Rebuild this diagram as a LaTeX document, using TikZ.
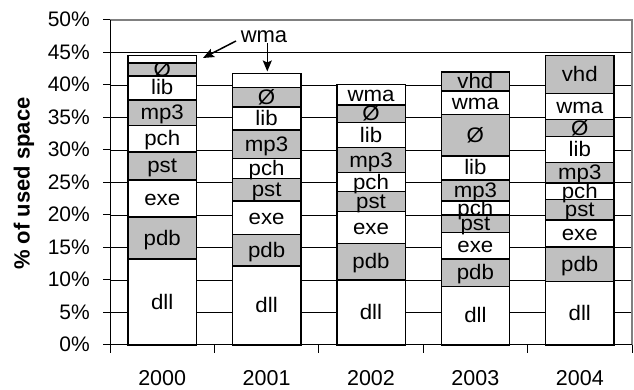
\documentclass[tikz,border=0pt]{standalone}
\usepackage{fontspec}
\setmainfont{Liberation Sans}
\newfontfamily\seglabelfont{Liberation Sans}[FakeStretch=1.06]
\usetikzlibrary{arrows.meta}
\definecolor{segfill}{RGB}{192,192,192}
\definecolor{framegray}{RGB}{128,128,128}
\tikzset{
  seg/.style={draw=black, line width=1.4pt},
  seglabel/.style={font=\seglabelfont\fontsize{21}{25}\selectfont, inner sep=0pt, anchor=base, yshift=-7pt},
  gridline/.style={black, line width=0.8pt},
  frameline/.style={framegray, line width=1.3pt},
  axisline/.style={black, line width=1pt},
  ticklabel/.style={font=\fontsize{21}{25}\selectfont, inner sep=0pt, anchor=base east, yshift=-7pt},
  yearlabel/.style={font=\fontsize{21.5}{26}\selectfont, inner sep=0pt, anchor=base},
  titlelabel/.style={font=\bfseries\fontsize{22}{26}\selectfont, inner sep=0pt, rotate=90},
  callout/.style={line width=1.5pt, -{Stealth[length=11pt,width=9pt,inset=2pt]}},
}
\newcommand\stackbar[3]{%
  \foreach \vt/\vl/\vf [count=\vk, remember=\vt as \vb (initially 0)] in {#3} {
    \draw[seg, fill=\vf] ({#2-34.2},\vb) rectangle ({#2+34.2},\vt);
    \node[seglabel] (#1s\vk) at ({#2},{(\vb+\vt)/2}) {\vl};
  }%
}
\begin{document}
\begin{tikzpicture}[x=1pt,y=1pt]
\useasboundingbox (0,0) rectangle (634,390);
\begin{scope}[shift={(110,45)}, y=6.5pt]
  % gridlines
  \foreach \v in {5,10,...,45} \draw[gridline] (0,\v) -- (522,\v);
  \draw[frameline] (0,50) -- (522,50) -- (522,0);
  % bars
  \stackbar{a}{52.2}{13.2/dll/white, 19.7/pdb/segfill, 25.4/exe/white, 29.7/pst/segfill, 33.8/pch/white, 37.7/mp3/segfill, 41.4/lib/white, 43.4/Ø/segfill}
  \draw[seg, fill=white] (18,43.4) rectangle (86.4,44.5);
  \stackbar{b}{156.6}{12.15/dll/white, 17.0/pdb/segfill, 22.15/exe/white, 25.6/pst/segfill, 28.7/pch/white, 33.1/mp3/segfill, 36.6/lib/white, 39.6/Ø/segfill}
  \draw[seg, fill=white] (122.4,39.6) rectangle (190.8,41.8);
  \stackbar{c}{261.0}{10.0/dll/white, 15.6/pdb/segfill, 20.5/exe/white, 23.6/pst/segfill, 26.5/pch/white, 30.4/mp3/segfill, 34.2/lib/white, 36.9/Ø/segfill, 40.1/wma/white}
  \stackbar{d}{365.4}{9.0/dll/white, 13.2/pdb/segfill, 17.3/exe/white, 20.0/pst/segfill, 22.15/pch/white, 25.4/mp3/segfill, 29.1/lib/white, 35.5/Ø/segfill, 39.1/wma/white, 42.0/vhd/segfill}
  \stackbar{e}{469.8}{9.75/dll/white, 15.1/pdb/segfill, 19.2/exe/white, 22.4/pst/segfill, 24.9/pch/white, 28.05/mp3/segfill, 32.05/lib/white, 34.7/Ø/segfill, 38.7/wma/white, 44.5/vhd/segfill}
  % axes
  \draw[axisline] (0,50) -- (0,0) -- (522,0);
  \foreach \v in {0,5,...,50} {
    \draw[axisline] (-7,\v) -- (0,\v);
    \node[ticklabel] (t\v) at (-20,\v) {\v\%};
  }
  \foreach \i in {0,...,5} \draw[axisline] ({104.4*\i},0) -- ({104.4*\i},-1.25);
\end{scope}
% year labels
\foreach \yr [count=\i from 0] in {2000,2001,2002,2003,2004}
  \node[yearlabel] (y\yr) at ({162.2+104.4*\i},4.5) {\yr};
% axis title
\node[titlelabel] (title) at (24,206.5) {\% of used space};
% callout
\node[font=\fontsize{22}{26}\selectfont, inner sep=0pt, anchor=base] (wma) at (264,347) {wma};
\coordinate (c1s) at (236,349);
\coordinate (c1e) at (203,332);
\coordinate (c2s) at (267.3,347);
\coordinate (c2e) at (267.3,318.5);
\draw[callout] (c1s) -- (c1e);
\draw[callout] (c2s) -- (c2e);
\end{tikzpicture}
\end{document}
